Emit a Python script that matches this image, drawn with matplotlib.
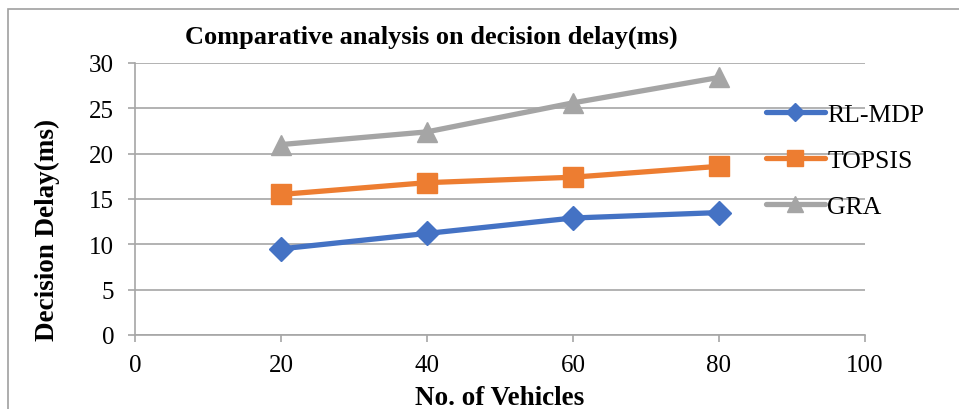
import matplotlib
matplotlib.use('Agg')
import matplotlib.pyplot as plt
from matplotlib.patches import Rectangle

# Decision delay (ms) against number of vehicles
vehicles = [20, 40, 60, 80]
rl_mdp = [9.5, 11.2, 12.9, 13.5]
topsis = [15.5, 16.8, 17.4, 18.6]
gra = [21.0, 22.4, 25.6, 28.4]

series_names = ['RL-MDP', 'TOPSIS', 'GRA']
x_ticks = [0, 20, 40, 60, 80, 100]
y_ticks = [0, 5, 10, 15, 20, 25, 30]

plt.rcParams['font.family'] = ['Liberation Serif', 'DejaVu Serif']

fig = plt.figure(figsize=(9.59, 4.10), dpi=100)
ax = fig.add_axes([0.1408, 0.1805, 0.761, 0.6635])

# chart frame
fig.patches.append(Rectangle((8 / 959, -0.1), 1.2, 1 - 9.5 / 410 + 0.1,
                             transform=fig.transFigure, fill=False,
                             edgecolor='#a0a0a0', lw=1.2))

ax.plot(vehicles, rl_mdp, color='#4472C4', lw=3.8, marker='D', ms=12,
        label=series_names[0], solid_capstyle='round')
ax.plot(vehicles, topsis, color='#ED7D31', lw=3.8, marker='s', ms=14,
        label=series_names[1], solid_capstyle='round')
ax.plot(vehicles, gra, color='#A5A5A5', lw=3.8, marker='^', ms=14,
        label=series_names[2], solid_capstyle='round')

ax.set_xlim(0, 100)
ax.set_ylim(0, 30)
ax.set_xticks(x_ticks)
ax.set_yticks(y_ticks)
ax.grid(axis='y', color='#a6a6a6', lw=1.2)
ax.set_axisbelow(True)

for s in ['top', 'right']:
    ax.spines[s].set_visible(False)
for s in ['left', 'bottom']:
    ax.spines[s].set_color('#a6a6a6')
    ax.spines[s].set_linewidth(1.2)
ax.tick_params(colors='#a6a6a6', length=5, width=1.2, labelcolor='black',
               labelsize=18)
ax.tick_params(axis='x', pad=9)
ax.tick_params(axis='y', pad=10)

ax.set_xlabel('No. of Vehicles', fontsize=19.5, fontweight='bold', labelpad=6)
ax.set_ylabel('Decision Delay(ms)', fontsize=19.5, fontweight='bold')
ax.yaxis.set_label_coords(-0.103, 0.39)
fig.text(0.45, 0.91, 'Comparative analysis on decision delay(ms)',
         fontsize=19, fontweight='bold', ha='center', va='center')

leg = ax.legend(loc='upper left', bbox_to_anchor=(0.85, 0.89), frameon=False,
                fontsize=18.5, handlelength=2.3, handletextpad=0.1,
                labelspacing=0.9, borderaxespad=0, markerscale=0.8)

fig.savefig('out.png', dpi=100)
